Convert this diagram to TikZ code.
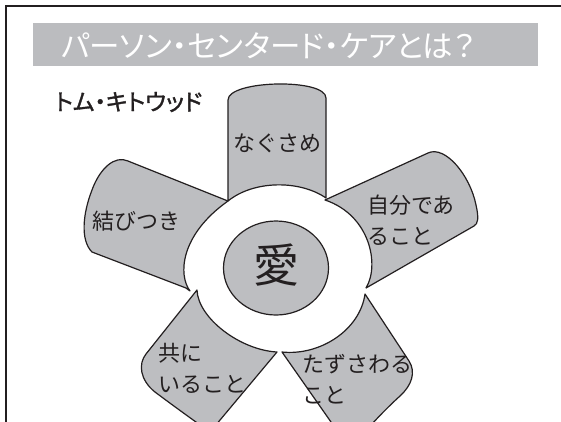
\documentclass[tikz,border=0pt]{standalone}
\usepackage{fontspec}
\newfontfamily\jp{Noto Sans CJK JP}
\newfontfamily\jpp[RawFeature=+palt]{Noto Sans CJK JP}
\newfontfamily\jpbold[FakeBold=1.4,RawFeature=+palt]{Noto Sans CJK JP}
\definecolor{petal}{RGB}{189,190,193}
\definecolor{barcol}{RGB}{187,188,191}
\definecolor{ink}{RGB}{35,31,32}
\begin{document}
\begin{tikzpicture}[x=1pt,y=-1pt,
  petalstyle/.style={fill=petal,draw=ink,line width=1.2pt,line join=round},
  lbl/.style={font=\jp\fontsize{22}{31}\selectfont,text=ink,inner sep=0pt,align=left}]
\useasboundingbox (0,0) rectangle (561,421);
\clip (0,0) rectangle (561,421);
\fill[white] (0,0) rectangle (561,421);
% frame
\draw[line width=2pt,ink] (565,6) -- (6,6) -- (6,425);
% title bar
\fill[barcol] (33,23) rectangle (538,66);
\node[anchor=west,inner sep=0pt,text=white,font=\jpp\fontsize{30.5}{33}\selectfont] (title) at (61,46) {パーソン・センタード・ケアとは？};
\node[anchor=west,inner sep=0pt,text=ink,font=\jpbold\fontsize{23}{26}\selectfont] (author) at (55,102) {トム・キトウッド};
% petals
% top
\draw[petalstyle] (228,201) -- (228,100) .. controls (228,80) and (326,78) .. (326,98) -- (326,198) .. controls (300,180) and (254,180) .. (228,201) -- cycle;
% left
\draw[petalstyle] (228,201) -- (128,161) .. controls (115,155) and (100,168) .. (92,190) .. controls (83,213) and (80,240) .. (92,252) -- (186,288) -- (190,291) .. controls (178,275) and (180,235) .. (228,201) -- cycle;
% right
\draw[petalstyle] (325,200) -- (428,153) .. controls (445,145) and (470,175) .. (476,205) .. controls (479,218) and (478,224) .. (474,226) -- (366,288) .. controls (380,265) and (370,215) .. (325,200) -- cycle;
% bottom left
\draw[petalstyle] (197,290) -- (146,354) .. controls (138,364) and (140,380) .. (155,392) .. controls (175,407) and (200,425) .. (210,432) -- (277,352) .. controls (240,350) and (198,318) .. (197,290) -- cycle;
% bottom right
\draw[petalstyle] (282,352) .. controls (320,356) and (360,330) .. (365,294) -- (409,361) .. controls (416,372) and (412,385) .. (400,396) .. controls (390,405) and (375,420) .. (365,432) -- (338,432) -- cycle;
% centre
\draw[fill=petal,draw=ink,line width=1.2pt] (276,268) ellipse [x radius=52.5pt,y radius=47pt];
\node[inner sep=0pt,text=ink,font=\jp\fontsize{46}{50}\selectfont] (love) at (276,265) {愛};
% labels
\node[lbl] (l1) at (277,143) {なぐさめ};
\node[lbl] (l2) at (136,221) {結びつき};
\node[lbl,anchor=west] (l3) at (367,220.5) {自分であ\\ること};
\node[lbl,anchor=west] (l4) at (158,368) {共に\\いること};
\node[lbl,anchor=west] (l5) at (302,379) {たずさわる\\こと};
\end{tikzpicture}
\end{document}
